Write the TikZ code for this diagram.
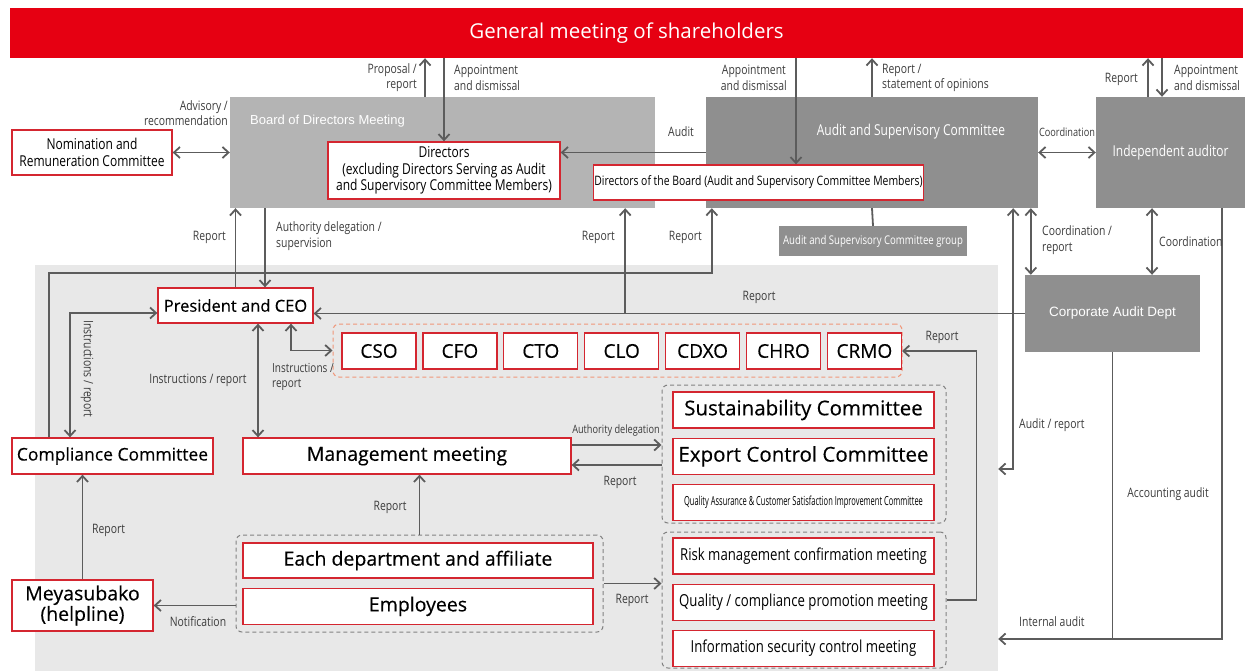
\documentclass[tikz,border=0pt]{standalone}
\usepackage{fontspec}
\setmainfont{Open Sans}
\newfontfamily\boxfont{Open Sans}[FakeBold=0.35]
\newfontfamily\condfont{Open Sans}[FakeStretch=0.8]
\newfontfamily\narrowfont{Open Sans}[FakeStretch=0.6]
\newfontfamily\arialfont{Liberation Sans}
\usetikzlibrary{positioning,arrows.meta,calc}

\definecolor{bannerred}{RGB}{230,0,18}
\definecolor{boxred}{RGB}{212,38,48}
\definecolor{boardgray}{RGB}{180,180,180}
\definecolor{ascgray}{RGB}{143,143,143}
\definecolor{panelgray}{RGB}{232,232,232}
\definecolor{arrowgray}{RGB}{92,92,92}
\definecolor{labeltext}{RGB}{60,60,60}
\definecolor{dashorange}{RGB}{240,150,120}
\definecolor{dashgray}{RGB}{130,130,130}

\tikzset{
orgchart/.style={
    x=1pt,
    y=-1pt,
    >={Straight Barb[length=6pt,width=11pt]}
},
redbox/.style={
    draw=boxred,
    fill=white,
    line width=1.3pt,
    inner sep=1pt,
    align=center,
    text=black
},
graybox/.style={
    fill=boardgray,
    inner sep=0pt
},
darkbox/.style={
    fill=ascgray,
    text=white,
    inner sep=0pt,
    align=center
},
lbl/.style={
    text=labeltext,
    inner sep=1pt,
    align=center,
    font=\condfont\fontsize{13}{15.5}\selectfont
},
grpred/.style={
    draw=dashorange,
    dash pattern=on 4pt off 3pt,
    rounded corners=6pt,
    line width=1pt
},
grpgray/.style={
    draw=dashgray,
    dash pattern=on 4pt off 3pt,
    rounded corners=6pt,
    line width=1pt
},
flow/.style={
    ->,
    draw=arrowgray,
    line width=1.8pt
},
flows/.style={
    <->,
    draw=arrowgray,
    line width=1.8pt
},
plain/.style={
    draw=arrowgray,
    line width=1.8pt
}}

\begin{document}
\begin{tikzpicture}[orgchart]
\useasboundingbox (0,0) rectangle (1252,671);

% shareholders and the board level
\node[fill=bannerred, text=white, minimum width=1233pt, minimum height=50pt, font=\fontsize{20.5}{24}\selectfont] (banner) at (626.5,33) {General meeting of shareholders};
\node[graybox, minimum width=425pt, minimum height=111pt] (board) at (442.5,152.5) {};
\node[text=white, anchor=west, inner sep=0pt, font=\arialfont\fontsize{13}{15}\selectfont] (boardtitle) at (250,121) {Board of Directors Meeting};
\node[darkbox, minimum width=332pt, minimum height=111pt] (asc) at (872,152.5) {};
\node[text=white, inner sep=0pt, font=\condfont\fontsize{15}{18}\selectfont] (asctitle) at (911,132) {Audit and Supervisory Committee};
\node[darkbox, minimum width=149pt, minimum height=111pt, font=\condfont\fontsize{15}{18}\selectfont] (indep) at (1170.5,152.5) {Independent auditor};
\node[redbox, minimum width=232pt, minimum height=57pt, font=\condfont\fontsize{15}{16.5}\selectfont] (dirs) at (444,170.5) {Directors\\(excluding Directors Serving as Audit\\and Supervisory Committee Members)};
\node[redbox, minimum width=327pt, minimum height=35pt, font=\condfont\fontsize{13}{15}\selectfont] (dirboard) at (758.5,182.5) {Directors of the Board (Audit and Supervisory Committee Members)};
\node[redbox, minimum width=160pt, minimum height=45pt, font=\condfont\fontsize{15}{17.5}\selectfont] (nrc) at (92,152.5) {Nomination and\\Remuneration Committee};
\node[darkbox, minimum width=188pt, minimum height=30pt, font=\condfont\fontsize{12}{15}\selectfont] (ascg) at (873,241) {Audit and Supervisory Committee group};
\node[darkbox, minimum width=175pt, minimum height=77pt, font=\arialfont\fontsize{13.5}{16}\selectfont] (corp) at (1112.5,313.5) {Corporate Audit Dept};

% execution level
\node[fill=panelgray, minimum width=963pt, minimum height=406pt, inner sep=0pt] (panel) at (516.5,468) {};
\node[redbox, minimum width=155pt, minimum height=35pt, font=\boxfont\fontsize{16.5}{19}\selectfont] (pres) at (235.5,305.5) {President and CEO};
\node[grpred, minimum width=569pt, minimum height=53pt] (cxogrp) at (617.5,350.5) {};
\node[redbox, minimum width=74pt, minimum height=36pt, font=\boxfont\fontsize{19}{22}\selectfont] (cso) at (379,351) {CSO};
\node[redbox, minimum width=74pt, minimum height=36pt, font=\boxfont\fontsize{19}{22}\selectfont] (cfo) [right=5.6pt of cso] {CFO};
\node[redbox, minimum width=74pt, minimum height=36pt, font=\boxfont\fontsize{19}{22}\selectfont] (cto) [right=5.6pt of cfo] {CTO};
\node[redbox, minimum width=74pt, minimum height=36pt, font=\boxfont\fontsize{19}{22}\selectfont] (clo) [right=5.6pt of cto] {CLO};
\node[redbox, minimum width=74pt, minimum height=36pt, font=\boxfont\fontsize{19}{22}\selectfont] (cdxo) [right=5.6pt of clo] {CDXO};
\node[redbox, minimum width=74pt, minimum height=36pt, font=\boxfont\fontsize{19}{22}\selectfont] (chro) [right=5.6pt of cdxo] {CHRO};
\node[redbox, minimum width=74pt, minimum height=36pt, font=\boxfont\fontsize{19}{22}\selectfont] (crmo) [right=5.6pt of chro] {CRMO};

\node[redbox, minimum width=201pt, minimum height=36pt, font=\boxfont\fontsize{17.5}{20}\selectfont] (comp) at (112.5,456) {Compliance Committee};
\node[redbox, minimum width=328pt, minimum height=36pt, font=\boxfont\fontsize{19.5}{22}\selectfont] (mgmt) at (407,456) {Management meeting};
\node[redbox, minimum width=141pt, minimum height=51pt, font=\boxfont\fontsize{19.5}{18}\selectfont] (meya) at (82.5,605.5) {Meyasubako\\(helpline)};

\node[grpgray, minimum width=367pt, minimum height=97pt] (deptgrp) at (419.5,583.5) {};
\node[redbox, minimum width=350pt, minimum height=35pt, font=\boxfont\fontsize{19.5}{22}\selectfont] (dept) at (418,560.5) {Each department and affiliate};
\node[redbox, minimum width=350pt, minimum height=36pt, font=\boxfont\fontsize{19.5}{22}\selectfont] (emp) [below=9pt of dept] {Employees};

\node[grpgray, minimum width=284pt, minimum height=138pt] (comgrp1) at (804,454) {};
\node[redbox, minimum width=261pt, minimum height=36pt, font=\boxfont\fontsize{20.5}{23}\selectfont] (sus) at (803.5,410) {Sustainability Committee};
\node[redbox, minimum width=261pt, minimum height=36pt, font=\boxfont\fontsize{20.5}{23}\selectfont] (exp) [below=9pt of sus] {Export Control Committee};
\node[redbox, minimum width=261pt, minimum height=36pt, font=\narrowfont\fontsize{12.5}{15}\selectfont] (qa) [below=9pt of exp] {Quality Assurance \& Customer Satisfaction Improvement Committee};

\node[grpgray, minimum width=284pt, minimum height=136pt] (comgrp2) at (804,600) {};
\node[redbox, minimum width=261pt, minimum height=36pt, font=\condfont\fontsize{16.5}{19}\selectfont] (risk) at (803.5,556) {Risk management confirmation meeting};
\node[redbox, minimum width=261pt, minimum height=36pt, font=\condfont\fontsize{16.5}{19}\selectfont] (qcp) [below=9pt of risk] {Quality / compliance promotion meeting};
\node[redbox, minimum width=261pt, minimum height=36pt, font=\condfont\fontsize{16.5}{19}\selectfont] (isc) [below=9pt of qcp] {Information security control meeting};

% connectors to the shareholders
\draw[flow] ($(board.north)+(-17.5,0)$) -- ($(board.north |- banner.south)+(-17.5,0)$);
\draw[flow] (banner.south -| dirs.north) -- (dirs.north);
\draw[flow] ($(banner.south -| dirboard.north)+(37.5,0)$) -- ($(dirboard.north)+(37.5,0)$);
\draw[flow] (asc.north) -- (asc.north |- banner.south);
\draw[flow] ($(indep.north)+(-22.5,0)$) -- ($(indep.north |- banner.south)+(-22.5,0)$);
\draw[flow] ($(banner.south -| indep.north)+(-8.5,0)$) -- ($(indep.north)+(-8.5,0)$);

\draw[flows] (nrc.east) -- (board.west);
\draw[flow] (asc.west) -- (asc.west -| dirs.east);
\draw[flows] (asc.east) -- (indep.west);
\draw[plain] (asc.south) -- (ascg.north);

% board and president
\draw[flow] (pres.north) -- (pres.north |- board.south);
\draw[flow] ($(pres.north |- board.south)+(29.5,0)$) -- ($(pres.north)+(29.5,0)$);
\draw[flow] ($(comp.north)+(-63.5,0)$) |- ($(asc.south west)+(6,65)$) -- ($(asc.south west)+(6,0)$);

% corporate audit
\coordinate (brep) at ($(board.south east)+(-30,0)$);
\draw[flow] (corp.west) -- (corp.west -| pres.east);
\draw[flow] (corp.west -| brep) -- (brep);
\draw[flows] ($(asc.south east)+(-25,0)$) |- ($(panel.east)+(0,1)$);
\draw[flows] ($(corp.north west)+(6,0)$) -- ($(corp.north west |- asc.south)+(6,0)$);
\draw[flows] ($(corp.north)+(39.5,0)$) -- ($(corp.north |- indep.south)+(39.5,0)$);
\draw[flow] ($(indep.south east)+(-23,0)$) |- ($(panel.east)+(0,171)$);
\draw[plain] (corp.south) -- ($(corp.south |- panel.east)+(0,171)$);

% president and below
\draw[flows] ($(pres.west)+(0,7.5)$) -| ($(comp.north)+(-42.5,0)$);
\draw[flows] ($(pres.south)+(22.5,0)$) -- ($(pres.south |- mgmt.north)+(22.5,0)$);
\draw[flows] ($(pres.south)+(55.5,0)$) |- (cxogrp.west);
\draw[flow] (comgrp2.east) -- ++(30,0) |- (crmo.east);
\draw[flow] ($(mgmt.east)+(0,-11)$) -- ($(mgmt.east -| comgrp1.west)+(0,-11)$);
\draw[flow] ($(comgrp1.west |- mgmt.east)+(0,9)$) -- ($(mgmt.east)+(0,9)$);
\draw[flow] (deptgrp.north) -- (deptgrp.north |- mgmt.south);
\draw[flow] (deptgrp.west |- meya.east) -- (meya.east);
\draw[flow] (deptgrp.east) -- (deptgrp.east -| comgrp2.west);
\draw[flow] (meya.north) -- (meya.north |- comp.south);

% labels
\node[lbl, anchor=east, align=right] (lbladvisory) at (229,113) {Advisory /\\recommendation};
\node[lbl, anchor=east, align=right] (lblproposal) at (418,77.5) {Proposal /\\report};
\node[lbl, anchor=west, align=left] (lblappdirs) at (453,78) {Appointment\\and dismissal};
\node[lbl, anchor=east] (lblappasc) at (788,78) {Appointment\\and dismissal};
\node[lbl, anchor=west, align=left] (lblopinion) at (881,78) {Report /\\statement of opinions};
\node[lbl, anchor=east] (lblrepind) at (1139,79) {Report};
\node[lbl, anchor=west, align=left] (lblappind) at (1173,78) {Appointment\\and dismissal};
\node[lbl] (lblaudit) at (681,132) {Audit};
\node[lbl, font=\condfont\fontsize{11.5}{14}\selectfont] (lblcoord) at (1067,132) {Coordination};
\node[lbl, anchor=east] (lblrepboard) at (227,237) {Report};
\node[lbl, anchor=west, align=left] (lbldelegation) at (275,236) {Authority delegation /\\supervision};
\node[lbl, anchor=east] (lblrepcorp) at (616,237) {Report};
\node[lbl, anchor=east] (lblrepcomp) at (703,237) {Report};
\node[lbl, anchor=west, align=left] (lblcoordrep) at (1041,240) {Coordination /\\report};
\node[lbl, anchor=west] (lblcoordind) at (1158,242) {Coordination};
\node[lbl] (lblreppres) at (759,297) {Report};
\node[lbl] (lblrepcrmo) at (942,337) {Report};
\node[lbl, rotate=-90] (lblinstcomp) at (87,369) {Instructions / report};
\node[lbl] (lblinstmgmt) at (198,380) {Instructions / report};
\node[lbl, anchor=west, align=left, font=\condfont\fontsize{12.5}{15}\selectfont] (lblinstcxo) at (271,377) {Instructions /\\report};
\node[lbl, font=\condfont\fontsize{11.5}{14}\selectfont] (lbldelcom) at (616,431) {Authority delegation};
\node[lbl] (lblrepcom) at (620,482) {Report};
\node[lbl, anchor=west] (lblauditrep) at (1018,425) {Audit / report};
\node[lbl] (lblaccounting) at (1168,494) {Accounting audit};
\node[lbl, anchor=west] (lblinternal) at (1018,622) {Internal audit};
\node[lbl, anchor=west] (lblrepmeya) at (91,530) {Report};
\node[lbl] (lblrepdept) at (390,507) {Report};
\node[lbl] (lblnotify) at (198,622) {Notification};
\node[lbl] (lblrepmeet) at (632,600) {Report};
\end{tikzpicture}
\end{document}
